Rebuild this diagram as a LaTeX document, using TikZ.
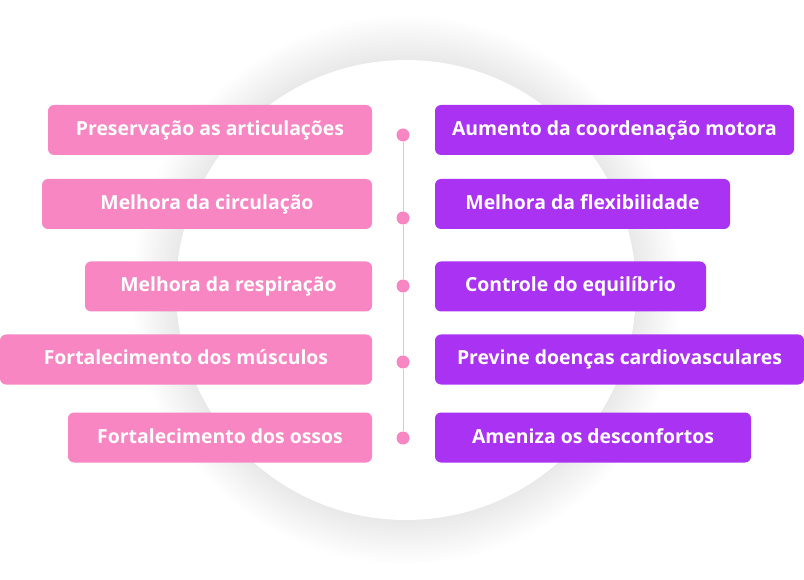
\documentclass[tikz,border=0pt]{standalone}
\usepackage{fontspec}
\setmainfont{Open Sans}
\usepackage{xcolor}
\usepackage{tikz}
\definecolor{boxpink}{HTML}{F786C2}
\definecolor{boxpurple}{HTML}{A932F3}
\definecolor{linegray}{HTML}{CFCFCF}
\tikzset{
  card/.style={rounded corners=6pt,minimum height=50pt,inner sep=0pt,
    text height=14pt,text depth=3pt,
    text=white,font=\fontsize{19.4}{22}\selectfont\bfseries},
  pinkcard/.style={card,fill=boxpink},
  purplecard/.style={card,fill=boxpurple},
  dot/.style={circle,fill=boxpink,minimum size=13pt,inner sep=0pt}
}
\begin{document}
\begin{tikzpicture}[x=1pt,y=-1pt]
    \useasboundingbox (0,0) rectangle (804,580);
    \fill[white] (0,0) rectangle (804,580);
      % soft shadow round the circle
      \coordinate (c) at (406,290);
      \foreach \r in {0,...,22}
        \fill[black,opacity=0.005] (c) circle (230+2*\r);
      \fill[white] (c) circle (230);
      % left column
      \node[pinkcard,minimum width=324pt] (l1) at (210,130) {Preservação as articulações};
      \node[pinkcard,minimum width=330pt] (l2) at (207,204) {Melhora da circulação};
      \node[pinkcard,minimum width=287pt] (l3) at (228.5,286.5) {Melhora da respiração};
      \node[pinkcard,minimum width=372pt] (l4) at (186,359.5) {Fortalecimento dos músculos};
      \node[pinkcard,minimum width=304pt] (l5) at (220,437.5) {Fortalecimento dos ossos};
      % right column
      \node[purplecard,minimum width=359pt] (r1) at (614.5,130) {Aumento da coordenação motora};
      \node[purplecard,minimum width=295pt] (r2) at (582.5,204) {Melhora da flexibilidade};
      \node[purplecard,minimum width=271pt] (r3) at (570.5,286.5) {Controle do equilíbrio};
      \node[purplecard,minimum width=369pt] (r4) at (619.5,359.5) {Previne doenças cardiovasculares};
      \node[purplecard,minimum width=316pt] (r5) at (593,437.5) {Ameniza os desconfortos};
      % timeline
      \node[dot] (d1) at (403,135) {};
      \node[dot] (d2) at (403,218) {};
      \node[dot] (d3) at (403,286) {};
      \node[dot] (d4) at (403,362) {};
      \node[dot] (d5) at (403,438) {};
      \draw[linegray,line width=1pt] (d1) -- (d2) -- (d3) -- (d4) -- (d5);
     \end{tikzpicture}
\end{document}
